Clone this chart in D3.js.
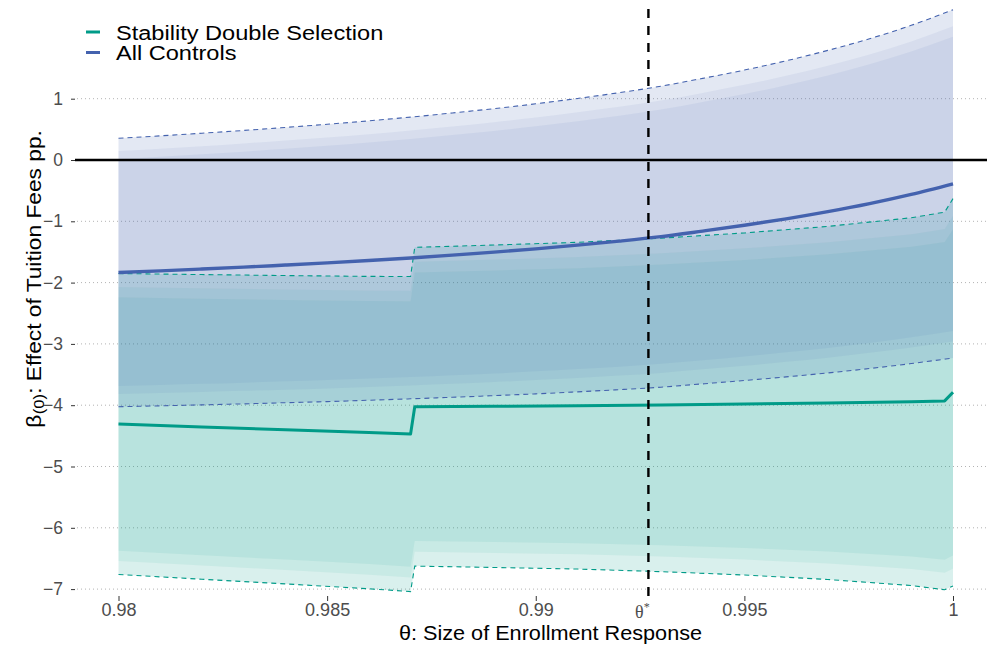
<!DOCTYPE html>
<html>
<head>
<meta charset="utf-8">
<script src="https://cdn.jsdelivr.net/npm/d3@7"></script>
<style>
  body { margin: 0; background: #ffffff; }
  svg { display: block; }
</style>
</head>
<body>
<svg id="chart" width="987" height="657"></svg>
<script>
// ---- Series: All Controls (estimate and half-widths of the three nested bands) ----
const thetaAll = [0.980, 0.981, 0.982, 0.983, 0.984, 0.985, 0.986, 0.987, 0.988, 0.989, 0.990,
                  0.991, 0.992, 0.993, 0.994, 0.995, 0.996, 0.997, 0.998, 0.999, 1.000];
const estAll = [-1.835, -1.808, -1.779, -1.748, -1.714, -1.679, -1.640, -1.598, -1.552, -1.503, -1.449,
                -1.389, -1.324, -1.251, -1.160, -1.065, -0.960, -0.843, -0.712, -0.562, -0.390];
const hwAllOuter = [2.190, 2.202, 2.216, 2.230, 2.245, 2.262, 2.279, 2.298, 2.319, 2.341, 2.366,
                    2.393, 2.422, 2.455, 2.492, 2.532, 2.578, 2.631, 2.690, 2.759, 2.840];
const hwAllMid = [1.982, 1.993, 2.005, 2.018, 2.032, 2.047, 2.062, 2.080, 2.099, 2.119, 2.141,
                  2.166, 2.192, 2.222, 2.255, 2.291, 2.333, 2.381, 2.434, 2.497, 2.570];
const hwAllInner = [1.851, 1.861, 1.873, 1.884, 1.897, 1.911, 1.926, 1.942, 1.960, 1.978, 1.999,
                    2.022, 2.047, 2.074, 2.106, 2.140, 2.178, 2.223, 2.273, 2.331, 2.400];

// ---- Series: Stability Double Selection ----
const thetaSDS = [0.980, 0.982, 0.984, 0.986, 0.987, 0.9871, 0.989, 0.991, 0.993, 0.995, 0.997, 0.999, 0.9998, 1.000];
const estSDS = [-4.307, -4.354, -4.400, -4.447, -4.470, -4.025, -4.017, -4.008, -3.995, -3.980, -3.963, -3.942, -3.930, -3.790];
const hwSDSOuter = [2.455, 2.485, 2.515, 2.548, 2.570, 2.600, 2.630, 2.665, 2.720, 2.790, 2.880, 3.000, 3.080, 3.160];
const hwSDSMid = [2.234, 2.261, 2.289, 2.319, 2.339, 2.366, 2.393, 2.425, 2.475, 2.539, 2.621, 2.730, 2.803, 2.876];
const hwSDSInner = [2.067, 2.092, 2.118, 2.145, 2.164, 2.189, 2.214, 2.244, 2.290, 2.349, 2.425, 2.526, 2.593, 2.661];

// ---- Axes and annotations ----
const thetaStar = 0.9927;
const xTicks = [0.98, 0.985, 0.99, 0.995, 1];
const xTickLabels = ["0.98", "0.985", "0.99", "0.995", "1"];
const yTicks = [-7, -6, -5, -4, -3, -2, -1, 0, 1];
const seriesNames = ["Stability Double Selection", "All Controls"];
const seriesColors = ["#009b88", "#4462ae"];

const FONT = "'Liberation Sans', Arial, Helvetica, sans-serif";
const svg = d3.select("#chart");

const panel = { left: 75, right: 987, top: 0, bottom: 596 };
const x = d3.scaleLinear().domain([0.98, 1]).range([118.5, 953]);
const y = d3.scaleLinear().domain([-7, 1]).range([589.1, 98.7]);

// build point records for each series
function records(theta, est, hwO, hwM, hwI) {
  return theta.map((t, i) => ({ t, est: est[i], o: hwO[i], m: hwM[i], n: hwI[i] }));
}
const series = [
  { name: seriesNames[0], color: seriesColors[0], curve: d3.curveLinear,
    data: records(thetaSDS, estSDS, hwSDSOuter, hwSDSMid, hwSDSInner) },
  { name: seriesNames[1], color: seriesColors[1], curve: d3.curveMonotoneX,
    data: records(thetaAll, estAll, hwAllOuter, hwAllMid, hwAllInner) }
];

svg.append("defs").append("clipPath").attr("id", "panelClip")
  .append("rect").attr("x", panel.left).attr("y", panel.top)
  .attr("width", panel.right - panel.left).attr("height", panel.bottom - panel.top);

// horizontal dotted grid
svg.append("g").selectAll("line").data(yTicks).join("line")
  .attr("x1", panel.left).attr("x2", panel.right)
  .attr("y1", d => y(d)).attr("y2", d => y(d))
  .attr("stroke", "#b3b3b3").attr("stroke-width", 1)
  .attr("stroke-dasharray", "1,3").attr("stroke-dashoffset", -2);

const plot = svg.append("g").attr("clip-path", "url(#panelClip)");

// nested confidence bands
const bandSpecs = [{ key: "o", alpha: 0.15 }, { key: "m", alpha: 0.075 }, { key: "n", alpha: 0.08 }];
series.forEach(s => {
  bandSpecs.forEach(b => {
    const area = d3.area().curve(s.curve)
      .x(d => x(d.t)).y0(d => y(d.est - d[b.key])).y1(d => y(d.est + d[b.key]));
    plot.append("path").datum(s.data).attr("d", area)
      .attr("fill", s.color).attr("fill-opacity", b.alpha).attr("stroke", "none");
  });
});

// estimates and dashed outer bounds
series.forEach((s, i) => {
  const mid = d3.line().curve(s.curve).x(d => x(d.t)).y(d => y(d.est));
  plot.append("path").datum(s.data).attr("d", mid)
    .attr("fill", "none").attr("stroke", s.color).attr("stroke-width", i === 1 ? 3.4 : 3)
    .attr("stroke-linejoin", "round");
  [-1, 1].forEach(sign => {
    const bound = d3.line().curve(s.curve).x(d => x(d.t)).y(d => y(d.est + sign * d.o));
    plot.append("path").datum(s.data).attr("d", bound)
      .attr("fill", "none").attr("stroke", s.color).attr("stroke-width", 1.1)
      .attr("stroke-dasharray", "5,4");
  });
});

// zero reference line
svg.append("line")
  .attr("x1", panel.left).attr("x2", panel.right)
  .attr("y1", y(0)).attr("y2", y(0))
  .attr("stroke", "#000").attr("stroke-width", 2.4);

// theta* reference line
svg.append("path")
  .attr("d", `M${x(thetaStar)},${panel.bottom}V${panel.top + 3}`)
  .attr("stroke", "#000").attr("stroke-width", 2.4)
  .attr("stroke-dasharray", "9,8").attr("fill", "none");

// y axis
const yAxis = svg.append("g").attr("transform", `translate(${panel.left},0)`)
  .call(d3.axisLeft(y).tickValues(yTicks).tickSize(4).tickPadding(8)
    .tickFormat(d => d < 0 ? "\u2212" + Math.abs(d) : String(d)));
yAxis.select(".domain").remove();
yAxis.selectAll(".tick line").attr("stroke", "#333").attr("stroke-width", 1);
yAxis.selectAll(".tick text").attr("font-family", FONT).attr("font-size", 17.5)
  .attr("fill", "#4d4d4d");

// x axis
const xAxis = svg.append("g").attr("transform", `translate(0,${panel.bottom})`)
  .call(d3.axisBottom(x).tickValues(xTicks).tickSize(5).tickPadding(2.5)
    .tickFormat((d, i) => xTickLabels[i]));
xAxis.select(".domain").remove();
xAxis.selectAll(".tick line").attr("stroke", "#333").attr("stroke-width", 1);
xAxis.selectAll(".tick text").attr("font-family", FONT).attr("font-size", 18)
  .attr("fill", "#4d4d4d");

// theta* break label
const starLbl = svg.append("text")
  .attr("x", x(thetaStar) - 6).attr("y", 618)
  .attr("text-anchor", "middle").attr("fill", "#4d4d4d")
  .attr("font-family", "'Liberation Serif', 'Times New Roman', serif").attr("font-size", 18);
starLbl.append("tspan").text("\u03b8");
starLbl.append("tspan").attr("font-size", 12).attr("dy", -7).text("*");

// x title (slightly widened lettering)
svg.append("text")
  .attr("transform", "translate(550.5,640) scale(1.11,1)")
  .attr("text-anchor", "middle")
  .attr("font-family", FONT).attr("font-size", 19.5).attr("fill", "#000")
  .text("\u03b8: Size of Enrollment Response");

// y title
const yTitle = svg.append("text")
  .attr("transform", "translate(40.5,279) rotate(-90) scale(1.11,1)")
  .attr("text-anchor", "middle")
  .attr("font-family", FONT).attr("font-size", 20.5).attr("fill", "#000");
yTitle.append("tspan").text("\u03b2");
yTitle.append("tspan").attr("font-size", 15).attr("dy", 3).attr("dx", 0.5).text("(0)");
yTitle.append("tspan").attr("dy", -3).text(": Effect of Tuition Fees pp.");

// legend
const legend = svg.append("g");
series.forEach((s, i) => {
  const cy = 32 + i * 20.5;
  legend.append("line")
    .attr("x1", 86).attr("x2", 100).attr("y1", cy).attr("y2", cy)
    .attr("stroke", s.color).attr("stroke-width", 3);
  legend.append("text")
    .attr("transform", `translate(116,${cy + 7.8}) scale(1.123,1)`)
    .attr("font-family", FONT).attr("font-size", 21).attr("fill", "#000")
    .text(s.name);
});
</script>
</body>
</html>
